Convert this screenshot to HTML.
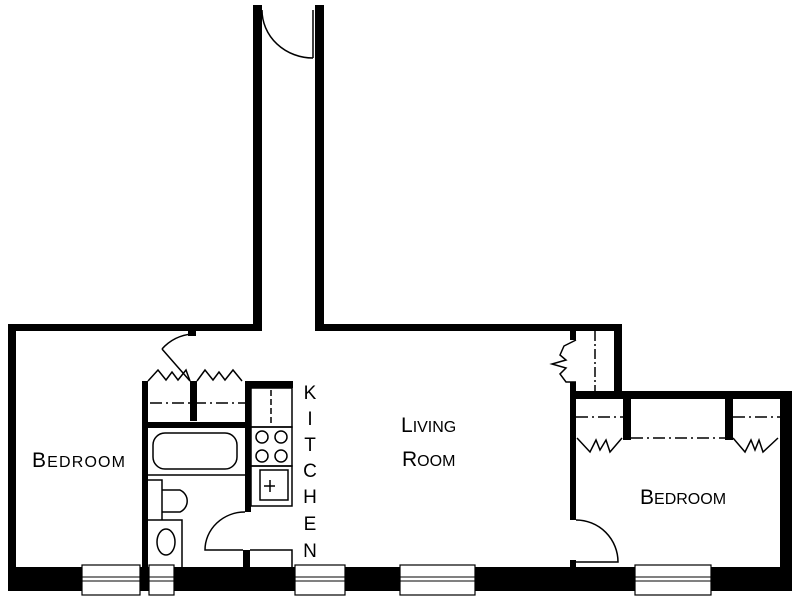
<!DOCTYPE html>
<html><head><style>
body{margin:0;background:#fff}
svg{display:block}
text{font-family:"Liberation Sans",sans-serif;fill:#000}
</style></head><body>
<svg width="800" height="596" viewBox="0 0 800 596" xmlns="http://www.w3.org/2000/svg">
<g fill="#000">
<rect x="253" y="5" width="9" height="326"/>
<rect x="315" y="5" width="9" height="326"/>
<rect x="8" y="324" width="254" height="7"/>
<rect x="315" y="324" width="307" height="7"/>
<rect x="8" y="324" width="8" height="267"/>
<rect x="8" y="567" width="784" height="24"/>
<rect x="614" y="324" width="8" height="72"/>
<rect x="570" y="324" width="6" height="16"/>
<rect x="570" y="382" width="6" height="10"/>
<rect x="570" y="391" width="222" height="8"/>
<rect x="780" y="391" width="12" height="200"/>
<rect x="570" y="391" width="6" height="129"/>
<rect x="570" y="560" width="6" height="8"/>
<rect x="623" y="399" width="8" height="41"/>
<rect x="725" y="399" width="8" height="41"/>
<rect x="142" y="381" width="6" height="186"/>
<rect x="190" y="381" width="7" height="40"/>
<rect x="245" y="381" width="6" height="131"/>
<rect x="245" y="381" width="48" height="7"/>
<rect x="142" y="422" width="108" height="6"/>
<rect x="243" y="550" width="7" height="17"/>
<rect x="188" y="328" width="8" height="8"/>
</g>
<g fill="none" stroke="#000" stroke-width="1.5">
<path d="M262 10 A51 48 0 0 0 313 58"/>
<line x1="313" y1="10" x2="313" y2="58"/>
<path d="M192 334 A45 45 0 0 0 162 349"/>
<line x1="162" y1="349" x2="190" y2="381"/>
<path d="M148 381 L158 370 L166 380 L172 372 L178 380 L186 370 L190 381"/>
<path d="M197 381 L205 370 L213 380 L219 372 L225 380 L233 370 L242 381"/>
<path d="M150 403 H245" stroke-dasharray="12 4 2 4"/>
<rect x="153" y="433" width="84" height="36" rx="12"/>
<line x1="148" y1="475" x2="245" y2="475"/>
<path d="M148 480 H162 V520"/>
<path d="M162 490 H180 A12 12 0 0 1 180 512 H162"/>
<path d="M148 520 H182 V567"/>
<ellipse cx="166" cy="542" rx="9" ry="13"/>
<path d="M245 512 A40 38 0 0 0 205 550 H243"/>
<rect x="251" y="388" width="41" height="39"/>
<path d="M271 390 V425" stroke-dasharray="6 3"/>
<rect x="251" y="427" width="41" height="39"/>
<circle cx="262" cy="437" r="6"/><circle cx="281" cy="437" r="6"/>
<circle cx="262" cy="456" r="6"/><circle cx="281" cy="456" r="6"/>
<rect x="251" y="466" width="41" height="40"/>
<rect x="260" y="470" width="28" height="30"/>
<line x1="264" y1="486" x2="275" y2="486"/>
<line x1="270" y1="480" x2="270" y2="492"/>
<path d="M250 550 H292 V567"/>
<path d="M595 331 V391" stroke-dasharray="10 3 2 3"/>
<path d="M576 340 L564 346 L560 355 L566 360 L552 364 L566 368 L560 374 L566 382 L576 382"/>
<path d="M576 417 H623 M631 438 H725 M733 417 H780" stroke-dasharray="12 4 2 4"/>
<path d="M577 438 L590 452 L596 440 L600 450 L606 440 L610 452 L622 438"/>
<path d="M733 438 L745 452 L751 440 L755 450 L759 440 L763 452 L778 438"/>
<path d="M576 520 A42 42 0 0 1 618 562 H576"/>
</g>
<g fill="#fff" stroke="#000" stroke-width="1.2">
<rect x="82" y="565" width="58" height="30"/>
<rect x="149" y="565" width="25" height="30"/>
<rect x="295" y="565" width="50" height="30"/>
<rect x="400" y="565" width="75" height="30"/>
<rect x="635" y="565" width="76" height="30"/>
</g>
<g stroke="#000" stroke-width="1">
<path d="M82 577 H140 M82 581 H140 M149 577 H174 M149 581 H174 M295 577 H345 M295 581 H345 M400 577 H475 M400 581 H475 M635 577 H711 M635 581 H711"/>
</g>
<text x="32" y="467" font-size="21" textLength="93">B<tspan font-size="16">EDROOM</tspan></text>
<text x="401" y="432" font-size="21">L<tspan font-size="16">IVING</tspan></text>
<text x="402" y="466" font-size="21">R<tspan font-size="16">OOM</tspan></text>
<text x="640" y="504" font-size="21">B<tspan font-size="16">EDROOM</tspan></text>
<g font-size="19" text-anchor="middle">
<text x="310" y="399">K</text><text x="310" y="425">I</text><text x="310" y="451">T</text>
<text x="310" y="477">C</text><text x="310" y="503">H</text><text x="310" y="530">E</text>
<text x="310" y="557">N</text>
</g>
</svg>
</body></html>
